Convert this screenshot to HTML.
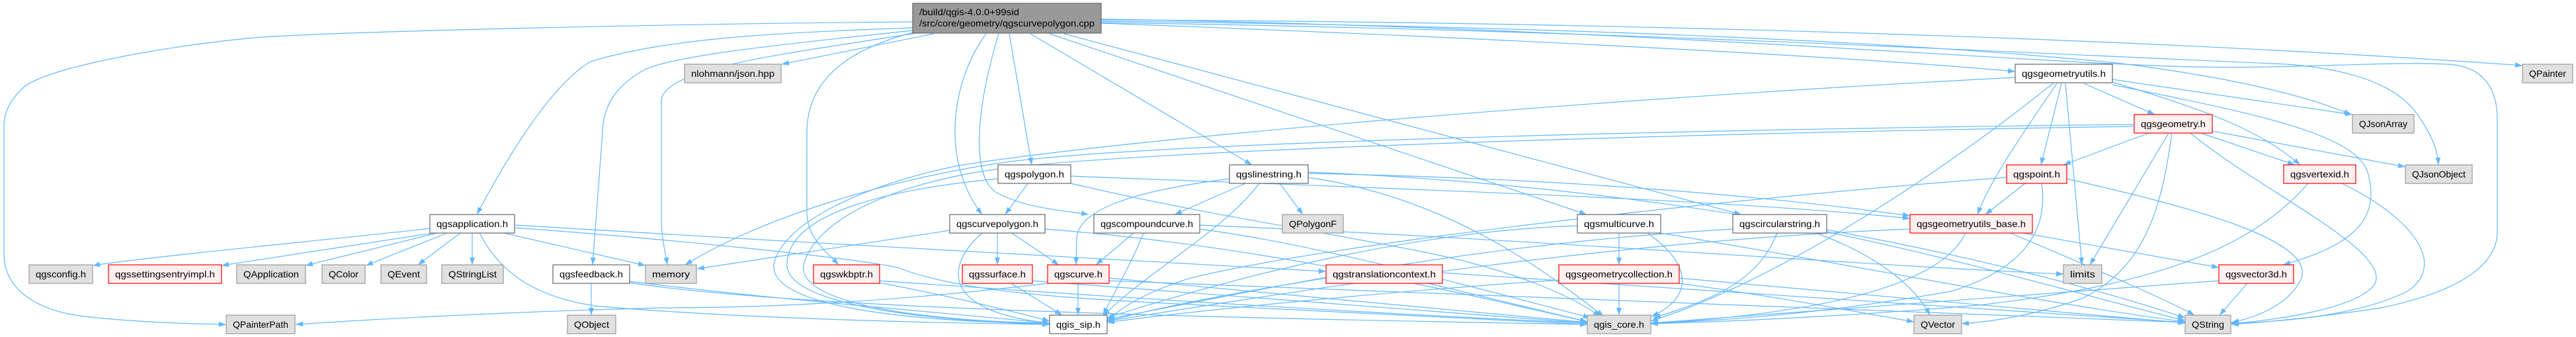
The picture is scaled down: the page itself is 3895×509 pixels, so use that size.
<!DOCTYPE html>
<html><head><meta charset="utf-8"><style>
html,body{margin:0;padding:0;background:#fff;}
svg{display:block;}
text{font-family:"Liberation Sans",sans-serif;font-size:14px;fill:#000;}
.e{fill:none;stroke:#63b8ff;stroke-width:1.2;marker-end:url(#ah);}
.w{fill:#fff;stroke:#666;stroke-width:1.2;}
.g{fill:#e0e0e0;stroke:#999;stroke-width:1.2;}
.r{fill:#fff0f0;stroke:#f00;stroke-width:1.2;}
</style></head><body>
<svg width="3895" height="509" viewBox="0 0 3895 509" xmlns="http://www.w3.org/2000/svg">
<defs><marker id="ah" markerUnits="userSpaceOnUse" markerWidth="11" markerHeight="8" viewBox="0 0 11 8" refX="11" refY="4" orient="auto"><path d="M0,0 L11,4 L0,8 z" fill="#63b8ff"/></marker></defs>
<g>
<path class="e" d="M1380,33 C1000,36 500,48 383,57 C250,70 80,100 38,130 C15,150 6,170 6,190 L6,383 C6,440 60,470 128,478 C200,486 280,489 342,490"/>
<path class="e" d="M1381,42 C1150,50 1000,60 893,93 C830,130 760,250 721,324"/>
<path class="e" d="M1381,46 C1150,70 1020,85 975,105 C930,130 912,160 911,200 L896,400"/>
<path class="e" d="M1385,50 C1200,80 1010,100 1000,150 L1000,330 C1000,360 1006,380 1009,400"/>
<path class="e" d="M1412,51 L1182,97"/>
<path class="e" d="M1381,49 C1300,70 1220,110 1220,200 L1220,320 C1220,360 1250,380 1268,400"/>
<path class="e" d="M1491,51 C1440,120 1420,240 1485,324"/>
<path class="e" d="M1510,51 C1480,150 1465,260 1505,290 C1550,315 1610,318 1646,324"/>
<path class="e" d="M1526,51 L1560,249"/>
<path class="e" d="M1558,51 L1893,249"/>
<path class="e" d="M1587,51 L2399,324"/>
<path class="e" d="M1609,51 L2633,324"/>
<path class="e" d="M1665,35 C2200,55 2800,85 3047,108"/>
<path class="e" d="M1665,30 C2400,33 3200,55 3814,99"/>
<path class="e" d="M1665,32 C2400,40 2900,65 3200,95 C3400,120 3500,150 3555,173"/>
<path class="e" d="M1665,34 C2400,45 2950,75 3458,97 C3560,105 3630,130 3660,180 C3680,210 3686,230 3687,249"/>
<path class="e" d="M1665,29 C2400,40 3000,90 3281,100 C3450,106 3600,92 3700,97 C3760,100 3776,140 3776,180 L3776,350 C3776,400 3720,440 3600,465 C3500,480 3420,487 3374,490"/>
<path class="e" d="M650,345 C500,362 250,385 140,401"/>
<path class="e" d="M655,352 L335,401"/>
<path class="e" d="M661,352 L462,401"/>
<path class="e" d="M676,352 L553,401"/>
<path class="e" d="M696,352 L632,400"/>
<path class="e" d="M714,352 L714,400"/>
<path class="e" d="M762,352 L976,401"/>
<path class="e" d="M725,352 C760,420 820,450 900,462 C1100,480 1400,488 1587,490"/>
<path class="e" d="M779,340 C1200,365 1700,395 2005,410"/>
<path class="e" d="M779,344 C1000,360 1300,390 1360,405 C1450,440 1600,450 1800,460 C2100,475 2300,485 2400,490"/>
<path class="e" d="M894,428 L894,476"/>
<path class="e" d="M952,425 C1150,450 1400,470 1587,488"/>
<path class="e" d="M952,427 C1200,465 1800,480 2400,490"/>
<path class="e" d="M1330,427 C1450,450 1530,470 1587,485"/>
<path class="e" d="M1330,424 C1700,450 2100,475 2400,488"/>
<path class="e" d="M1529,428 L1606,476"/>
<path class="e" d="M1561,424 C1900,450 2200,475 2400,488"/>
<path class="e" d="M1630,428 L1630,476"/>
<path class="e" d="M1584,428 C1400,450 1200,465 1000,465 C800,470 600,480 447,490"/>
<path class="e" d="M1677,420 C1900,440 2200,470 2400,487"/>
<path class="e" d="M1677,424 C2200,445 2900,470 3304,487"/>
<path class="e" d="M1436,348 L1054,406"/>
<path class="e" d="M1508,352 L1508,400"/>
<path class="e" d="M1530,352 L1601,400"/>
<path class="e" d="M1485,352 C1430,400 1420,470 1587,488"/>
<path class="e" d="M1580,346 C1900,370 2200,440 2400,486"/>
<path class="e" d="M1714,352 L1657,400"/>
<path class="e" d="M1729,352 C1710,400 1680,450 1668,476"/>
<path class="e" d="M1814,346 C2000,370 2250,440 2405,480"/>
<path class="e" d="M1814,340 C2300,360 2800,400 3120,414"/>
<path class="e" d="M1554,277 L1520,324"/>
<path class="e" d="M1509,270 C1350,285 1190,320 1190,400 C1190,460 1400,485 1587,490"/>
<path class="e" d="M1619,277 C1800,320 2000,350 2150,380 C2300,410 2380,450 2420,478"/>
<path class="e" d="M1619,266 C2100,285 2600,300 2888,330"/>
<path class="e" d="M1935,277 L1970,324"/>
<path class="e" d="M1883,277 L1776,324"/>
<path class="e" d="M1859,270 C1700,290 1630,320 1628,360 L1627,400"/>
<path class="e" d="M1904,277 C1850,350 1720,420 1668,478"/>
<path class="e" d="M1978,262 C2400,270 2700,300 2888,326"/>
<path class="e" d="M1978,268 C2200,300 2350,420 2425,478"/>
<path class="e" d="M1978,260 C2500,280 3000,380 3304,480"/>
<path class="e" d="M2448,352 L2448,400"/>
<path class="e" d="M2491,352 C2560,400 2560,450 2497,478"/>
<path class="e" d="M2385,341 C2100,350 1800,440 1674,480"/>
<path class="e" d="M2511,352 C2800,400 3100,460 3304,486"/>
<path class="e" d="M2687,352 C2660,420 2600,450 2500,480"/>
<path class="e" d="M2620,346 C2200,370 1900,440 1674,482"/>
<path class="e" d="M2746,352 C2850,390 2900,440 2918,476"/>
<path class="e" d="M2762,350 C3000,400 3200,460 3304,484"/>
<path class="e" d="M3059,352 L3355,404"/>
<path class="e" d="M2972,352 C2940,420 2800,470 2496,489"/>
<path class="e" d="M2888,346 C2400,365 1900,450 1674,485"/>
<path class="e" d="M3040,352 C3200,420 3280,455 3318,476"/>
<path class="e" d="M2160,428 L2400,486"/>
<path class="e" d="M2005,420 C1850,445 1750,465 1674,485"/>
<path class="e" d="M2181,412 C2600,440 3000,470 3304,487"/>
<path class="e" d="M2448,428 L2448,476"/>
<path class="e" d="M2357,423 C2100,440 1800,470 1674,487"/>
<path class="e" d="M2539,428 C2700,450 2800,470 2894,486"/>
<path class="e" d="M2539,420 C2900,450 3150,475 3304,488"/>
<path class="e" d="M3151,126 L3258,173"/>
<path class="e" d="M3117,126 L3086,249"/>
<path class="e" d="M3123,126 L3148,400"/>
<path class="e" d="M3110,126 C3060,200 3010,270 2990,324"/>
<path class="e" d="M3104,126 C2950,250 2700,420 2496,485"/>
<path class="e" d="M3194,124 C3350,170 3420,200 3478,249"/>
<path class="e" d="M3194,120 L3557,173"/>
<path class="e" d="M3194,128 C3400,170 3560,200 3580,260 C3600,330 3560,370 3452,400"/>
<path class="e" d="M3047,117 C2400,150 1700,210 1450,250 C1300,280 1180,340 1170,400 C1165,460 1350,485 1587,489"/>
<path class="e" d="M3249,201 L3120,249"/>
<path class="e" d="M3328,201 L3470,249"/>
<path class="e" d="M3345,198 L3637,252"/>
<path class="e" d="M3279,201 L3160,400"/>
<path class="e" d="M3312,201 C3420,290 3620,380 3590,430 C3560,470 3420,485 3374,489"/>
<path class="e" d="M3284,201 C3270,300 3250,400 3150,450 C3080,475 3020,485 2966,489"/>
<path class="e" d="M3227,188 C2600,195 1700,215 1500,248 C1330,275 1150,330 1036,400"/>
<path class="e" d="M3227,191 C2600,200 1750,225 1510,255 C1330,280 1230,340 1215,400 C1205,460 1400,485 1587,488"/>
<path class="e" d="M3062,277 L3002,324"/>
<path class="e" d="M3034,268 C2600,300 2000,370 1800,420 C1720,445 1690,470 1674,484"/>
<path class="e" d="M3125,270 C3300,310 3500,360 3480,420 C3460,465 3400,482 3374,487"/>
<path class="e" d="M3087,277 C3095,330 3080,400 2950,440 C2750,475 2600,485 2496,488"/>
<path class="e" d="M3490,277 C3400,380 3250,430 3000,460 C2800,478 2600,486 2496,489"/>
<path class="e" d="M3541,277 C3650,330 3700,400 3640,440 C3560,480 3430,487 3374,488"/>
<path class="e" d="M3398,428 L3356,476"/>
<path class="e" d="M3355,424 C3000,450 2700,475 2496,488"/>
</g>
<g>
<rect x="1380" y="5" width="285" height="45" fill="#999" stroke="#666" stroke-width="1.2"/>
<text x="1390" y="23" textLength="151" lengthAdjust="spacingAndGlyphs">/build/qgis-4.0.0+99sid</text>
<text x="1390" y="40" textLength="265" lengthAdjust="spacingAndGlyphs">/src/core/geometry/qgscurvepolygon.cpp</text>
</g>
<g text-anchor="middle">
<rect class="g" x="1035" y="97" width="146" height="28"/><text x="1108" y="116" textLength="126" lengthAdjust="spacingAndGlyphs">nlohmann/json.hpp</text>
<rect class="w" x="3047" y="97" width="147" height="28"/><text x="3120.5" y="116" textLength="127" lengthAdjust="spacingAndGlyphs">qgsgeometryutils.h</text>
<rect class="g" x="3814" y="97" width="76" height="28"/><text x="3852" y="116" textLength="56" lengthAdjust="spacingAndGlyphs">QPainter</text>
<rect class="r" x="3227" y="173" width="118" height="28"/><text x="3286" y="192" textLength="98" lengthAdjust="spacingAndGlyphs">qgsgeometry.h</text>
<rect class="g" x="3557" y="173" width="93" height="28"/><text x="3603.5" y="192" textLength="73" lengthAdjust="spacingAndGlyphs">QJsonArray</text>
<rect class="w" x="1509" y="249" width="110" height="28"/><text x="1564" y="268" textLength="90" lengthAdjust="spacingAndGlyphs">qgspolygon.h</text>
<rect class="w" x="1859" y="249" width="119" height="28"/><text x="1918.5" y="268" textLength="99" lengthAdjust="spacingAndGlyphs">qgslinestring.h</text>
<rect class="r" x="3034" y="249" width="91" height="28"/><text x="3079.5" y="268" textLength="71" lengthAdjust="spacingAndGlyphs">qgspoint.h</text>
<rect class="r" x="3453" y="249" width="109" height="28"/><text x="3507.5" y="268" textLength="89" lengthAdjust="spacingAndGlyphs">qgsvertexid.h</text>
<rect class="g" x="3637" y="249" width="101" height="28"/><text x="3687.5" y="268" textLength="81" lengthAdjust="spacingAndGlyphs">QJsonObject</text>
<rect class="w" x="650" y="324" width="128" height="28"/><text x="714" y="343" textLength="108" lengthAdjust="spacingAndGlyphs">qgsapplication.h</text>
<rect class="w" x="1436" y="324" width="144" height="28"/><text x="1508" y="343" textLength="124" lengthAdjust="spacingAndGlyphs">qgscurvepolygon.h</text>
<rect class="w" x="1654" y="324" width="160" height="28"/><text x="1734" y="343" textLength="140" lengthAdjust="spacingAndGlyphs">qgscompoundcurve.h</text>
<rect class="g" x="1939" y="324" width="92" height="28"/><text x="1985" y="343" textLength="72" lengthAdjust="spacingAndGlyphs">QPolygonF</text>
<rect class="w" x="2385" y="324" width="126" height="28"/><text x="2448" y="343" textLength="106" lengthAdjust="spacingAndGlyphs">qgsmulticurve.h</text>
<rect class="w" x="2620" y="324" width="142" height="28"/><text x="2691" y="343" textLength="122" lengthAdjust="spacingAndGlyphs">qgscircularstring.h</text>
<rect class="r" x="2888" y="324" width="185" height="28"/><text x="2980.5" y="343" textLength="165" lengthAdjust="spacingAndGlyphs">qgsgeometryutils_base.h</text>
<rect class="g" x="44" y="400" width="96" height="28"/><text x="92" y="419" textLength="76" lengthAdjust="spacingAndGlyphs">qgsconfig.h</text>
<rect class="r" x="164" y="400" width="171" height="28"/><text x="249.5" y="419" textLength="151" lengthAdjust="spacingAndGlyphs">qgssettingsentryimpl.h</text>
<rect class="g" x="358" y="400" width="104" height="28"/><text x="410" y="419" textLength="84" lengthAdjust="spacingAndGlyphs">QApplication</text>
<rect class="g" x="487" y="400" width="65" height="28"/><text x="519.5" y="419" textLength="45" lengthAdjust="spacingAndGlyphs">QColor</text>
<rect class="g" x="576" y="400" width="69" height="28"/><text x="610.5" y="419" textLength="49" lengthAdjust="spacingAndGlyphs">QEvent</text>
<rect class="g" x="668" y="400" width="93" height="28"/><text x="714.5" y="419" textLength="73" lengthAdjust="spacingAndGlyphs">QStringList</text>
<rect class="w" x="836" y="400" width="116" height="28"/><text x="894" y="419" textLength="96" lengthAdjust="spacingAndGlyphs">qgsfeedback.h</text>
<rect class="g" x="976" y="400" width="77" height="28"/><text x="1014.5" y="419" textLength="57" lengthAdjust="spacingAndGlyphs">memory</text>
<rect class="r" x="1230" y="400" width="100" height="28"/><text x="1280" y="419" textLength="80" lengthAdjust="spacingAndGlyphs">qgswkbptr.h</text>
<rect class="r" x="1455" y="400" width="106" height="28"/><text x="1508" y="419" textLength="86" lengthAdjust="spacingAndGlyphs">qgssurface.h</text>
<rect class="r" x="1584" y="400" width="93" height="28"/><text x="1630.5" y="419" textLength="73" lengthAdjust="spacingAndGlyphs">qgscurve.h</text>
<rect class="r" x="2005" y="400" width="176" height="28"/><text x="2093" y="419" textLength="156" lengthAdjust="spacingAndGlyphs">qgstranslationcontext.h</text>
<rect class="r" x="2357" y="400" width="182" height="28"/><text x="2448" y="419" textLength="162" lengthAdjust="spacingAndGlyphs">qgsgeometrycollection.h</text>
<rect class="g" x="3120" y="400" width="58" height="28"/><text x="3149" y="419" textLength="38" lengthAdjust="spacingAndGlyphs">limits</text>
<rect class="r" x="3355" y="400" width="113" height="28"/><text x="3411.5" y="419" textLength="93" lengthAdjust="spacingAndGlyphs">qgsvector3d.h</text>
<rect class="g" x="342" y="476" width="104" height="28"/><text x="394" y="495" textLength="84" lengthAdjust="spacingAndGlyphs">QPainterPath</text>
<rect class="g" x="858" y="476" width="73" height="28"/><text x="894.5" y="495" textLength="53" lengthAdjust="spacingAndGlyphs">QObject</text>
<rect class="w" x="1587" y="476" width="87" height="28"/><text x="1630.5" y="495" textLength="67" lengthAdjust="spacingAndGlyphs">qgis_sip.h</text>
<rect class="g" x="2400" y="476" width="96" height="28"/><text x="2448" y="495" textLength="76" lengthAdjust="spacingAndGlyphs">qgis_core.h</text>
<rect class="g" x="2894" y="476" width="72" height="28"/><text x="2930" y="495" textLength="52" lengthAdjust="spacingAndGlyphs">QVector</text>
<rect class="g" x="3304" y="476" width="69" height="28"/><text x="3338.5" y="495" textLength="49" lengthAdjust="spacingAndGlyphs">QString</text>
</g>
</svg>
</body></html>
